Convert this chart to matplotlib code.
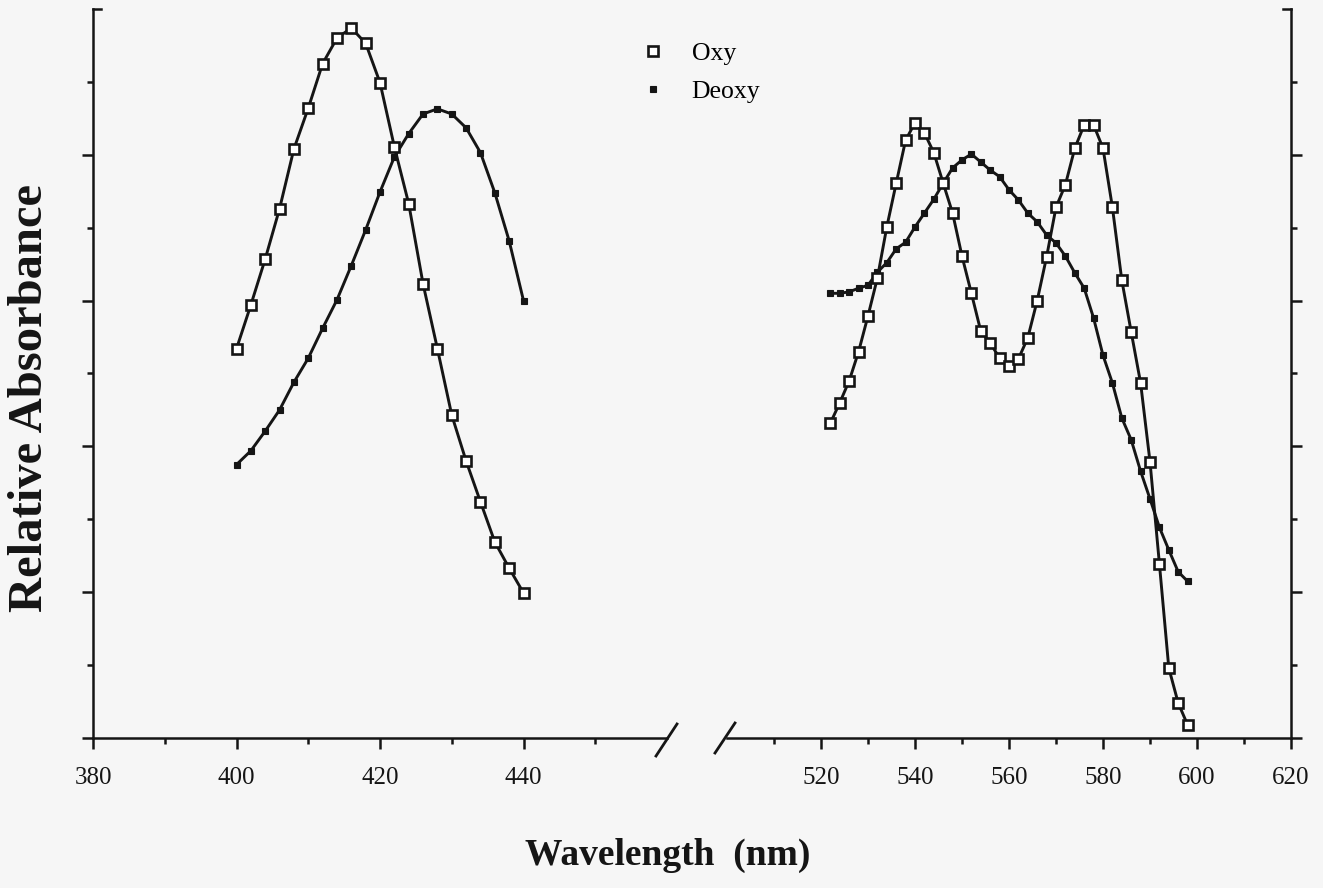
import matplotlib
matplotlib.use("Agg")
import matplotlib.pyplot as plt
from matplotlib.lines import Line2D
import numpy as np

plt.rcParams['font.family'] = ['Liberation Serif', 'DejaVu Serif']

# ---- data (relative absorbance, arbitrary units 0-10) ----
wl_soret = [400, 402, 404, 406, 408, 410, 412, 414, 416, 418, 420,
            422, 424, 426, 428, 430, 432, 434, 436, 438, 440]
oxy_soret = [5.34, 5.94, 6.57, 7.26, 8.08, 8.64, 9.25, 9.60, 9.74, 9.53, 8.99,
             8.11, 7.33, 6.23, 5.34, 4.43, 3.80, 3.24, 2.69, 2.33, 1.99]
deoxy_soret = [3.75, 3.94, 4.21, 4.50, 4.88, 5.21, 5.62, 6.01, 6.48, 6.97, 7.49,
               7.97, 8.29, 8.56, 8.63, 8.56, 8.37, 8.03, 7.48, 6.82, 6.00]

wl_q = [522, 524, 526, 528, 530, 532, 534, 536, 538, 540, 542, 544, 546,
        548, 550, 552, 554, 556, 558, 560, 562, 564, 566, 568, 570, 572,
        574, 576, 578, 580, 582, 584, 586, 588, 590, 592, 594, 596, 598]
oxy_q = [4.32, 4.60, 4.90, 5.30, 5.79, 6.31, 7.01, 7.61, 8.20, 8.44, 8.30, 8.03, 7.61,
         7.20, 6.61, 6.10, 5.58, 5.42, 5.21, 5.10, 5.20, 5.49, 6.00, 6.60, 7.28, 7.59,
         8.09, 8.41, 8.41, 8.09, 7.28, 6.28, 5.57, 4.87, 3.79, 2.39, 0.96, 0.48, 0.18]
deoxy_q = [6.10, 6.10, 6.12, 6.17, 6.21, 6.39, 6.52, 6.71, 6.80, 7.01, 7.20, 7.39, 7.61,
           7.82, 7.93, 8.01, 7.90, 7.79, 7.70, 7.52, 7.38, 7.20, 7.08, 6.90, 6.79, 6.61,
           6.38, 6.17, 5.76, 5.25, 4.87, 4.39, 4.09, 3.66, 3.28, 2.89, 2.58, 2.28, 2.15]

left_major = [380, 400, 420, 440]
left_minor = [390, 410, 430, 450]
right_major = [520, 540, 560, 580, 600, 620]
right_minor = [510, 530, 550, 570, 590, 610]
y_major = [0, 2, 4, 6, 8]
y_minor = [1, 3, 5, 7, 9]

series_labels = ["Oxy", "Deoxy"]

# ---- styles ----
ink = '#151515'
bg = '#f6f6f6'
lw = 2.1
oxy_style = dict(color=ink, lw=lw, marker='s', ms=7.5, mew=1.9, mfc='white', mec=ink)
deoxy_style = dict(color=ink, lw=lw, marker='s', ms=3.8, mew=0.8, mfc=ink, mec=ink)

W, H = 1323, 888
fig = plt.figure(figsize=(W / 100, H / 100), dpi=100, facecolor=bg)

bottom, height = 150 / H, 729 / H
axL = fig.add_axes([93 / W, bottom, 574 / W, height])
axR = fig.add_axes([727 / W, bottom, 564 / W, height])

for ax in (axL, axR):
    ax.set_facecolor(bg)
    ax.set_ylim(0, 10)
    ax.spines['top'].set_visible(False)
    for s in ax.spines.values():
        s.set_linewidth(1.8)
        s.set_color(ink)
    ax.tick_params(axis='both', which='both', direction='out', color=ink, width=1.8,
                   labelsize=18, labelcolor=ink)
    ax.tick_params(axis='both', which='major', length=8)
    ax.tick_params(axis='both', which='minor', length=4)
    ax.tick_params(axis='x', which='major', pad=13)
    ax.set_yticks(y_major)
    ax.set_yticks(y_minor, minor=True)
    ax.set_yticklabels([])

axL.set_xlim(380, 460)
axL.spines['right'].set_visible(False)
axL.set_xticks(left_major)
axL.set_xticks(left_minor, minor=True)

axR.set_xlim(500, 620)
axR.spines['left'].set_visible(False)
axR.yaxis.tick_right()
axR.yaxis.set_label_position('right')
axR.set_xticks(right_major)
axR.set_xticks(right_minor, minor=True)

axL.plot(wl_soret, deoxy_soret, zorder=3, clip_on=False, **deoxy_style)
axL.plot(wl_soret, oxy_soret, zorder=4, clip_on=False, **oxy_style)
axR.plot(wl_q, deoxy_q, zorder=3, clip_on=False, **deoxy_style)
axR.plot(wl_q, oxy_q, zorder=4, clip_on=False, **oxy_style)

# top caps on y axes
axL.plot([0, 8 / 574], [1, 1], transform=axL.transAxes, color=ink, lw=1.8, clip_on=False)
axR.plot([1 - 8 / 564, 1], [1, 1], transform=axR.transAxes, color=ink, lw=1.8, clip_on=False)

# axis-break slashes
axL.plot([1 - 11 / 574, 1 + 10 / 574], [-18 / 729, 14 / 729], transform=axL.transAxes,
         color=ink, lw=2.0, clip_on=False)
axR.plot([-12 / 564, 8 / 564], [-15 / 729, 15 / 729], transform=axR.transAxes,
         color=ink, lw=2.0, clip_on=False)

# legend (markers only)
handles = [Line2D([], [], linestyle='None', marker='s', ms=7, mew=1.9, mfc='white', mec=ink),
           Line2D([], [], linestyle='None', marker='s', ms=3.8, mew=0.8, mfc=ink, mec=ink)]
fig.legend(handles, series_labels, loc='upper left', bbox_to_anchor=(630 / W, 1 - 32 / H),
           bbox_transform=fig.transFigure, frameon=False, fontsize=18.5, handlelength=1.0,
           handletextpad=1.0, labelspacing=0.58, borderaxespad=0, borderpad=0.4)

fig.text(668 / W, 1 - 855 / H, "Wavelength  (nm)", ha='center', va='center',
         fontsize=27, fontweight='bold', color=ink)
fig.text(30 / W, 1 - 398 / H, "Relative Absorbance", ha='center', va='center',
         rotation=90, fontsize=35, fontweight='bold', color=ink)

fig.savefig("out.png", dpi=100, facecolor=bg)
